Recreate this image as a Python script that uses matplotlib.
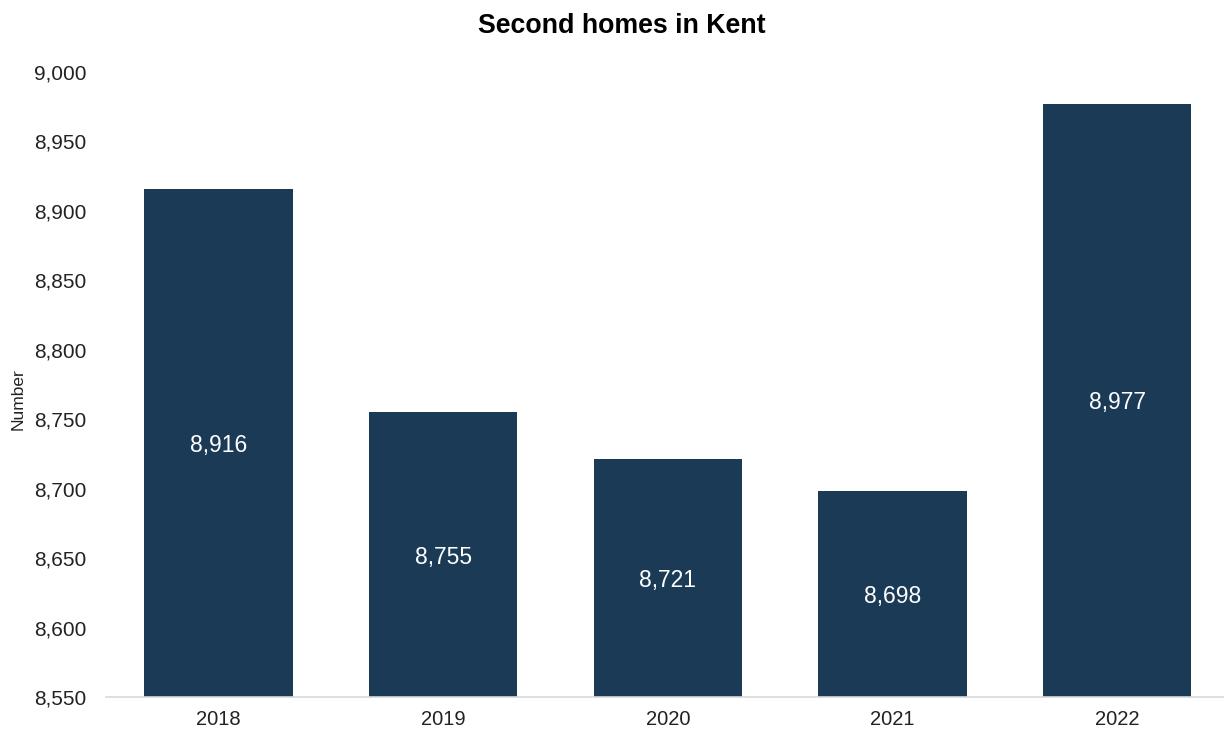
import matplotlib.pyplot as plt
from matplotlib.ticker import FuncFormatter

years = ['2018', '2019', '2020', '2021', '2022']
homes = [8916, 8755, 8721, 8698, 8977]

plt.rcParams['font.family'] = ['Liberation Sans', 'DejaVu Sans']

fig = plt.figure(figsize=(12.24, 7.33), dpi=100)
ax = fig.add_axes([0.0866, 0.049, 0.9134, 0.853])

ymin = 8550
x = range(len(years))
bars = ax.bar(x, [v - ymin for v in homes], bottom=ymin, width=0.66, color='#1a3a56')

for i, v in enumerate(homes):
    ax.text(i, (ymin + v) / 2, f'{v:,}', ha='center', va='center_baseline',
            color='white', fontsize=16.5)

ax.set_xlim(-0.5, 4.475)
ax.set_ylim(8550, 9000)
ax.set_yticks(range(8550, 9001, 50))
ax.yaxis.set_major_formatter(FuncFormatter(lambda v, p: f'{int(v):,}'))
ax.set_xticks(list(x))
ax.set_xticklabels(years)
ax.tick_params(axis='both', length=0, labelsize=15, colors='#222222')
ax.tick_params(axis='x', pad=9, labelsize=14.5)
ax.tick_params(axis='y', pad=14)

for s in ['top', 'right', 'left']:
    ax.spines[s].set_visible(False)
ax.spines['bottom'].set_color('#d9d9d9')
ax.spines['bottom'].set_linewidth(1.2)

fig.text(0.015, 0.455, 'Number', rotation=90, ha='center', va='center', fontsize=12.5, color='#222222')
fig.text(0.508, 0.965, 'Second homes in Kent', ha='center', va='center',
         fontsize=19.3, fontweight='bold')

fig.savefig('out.png', dpi=100)
